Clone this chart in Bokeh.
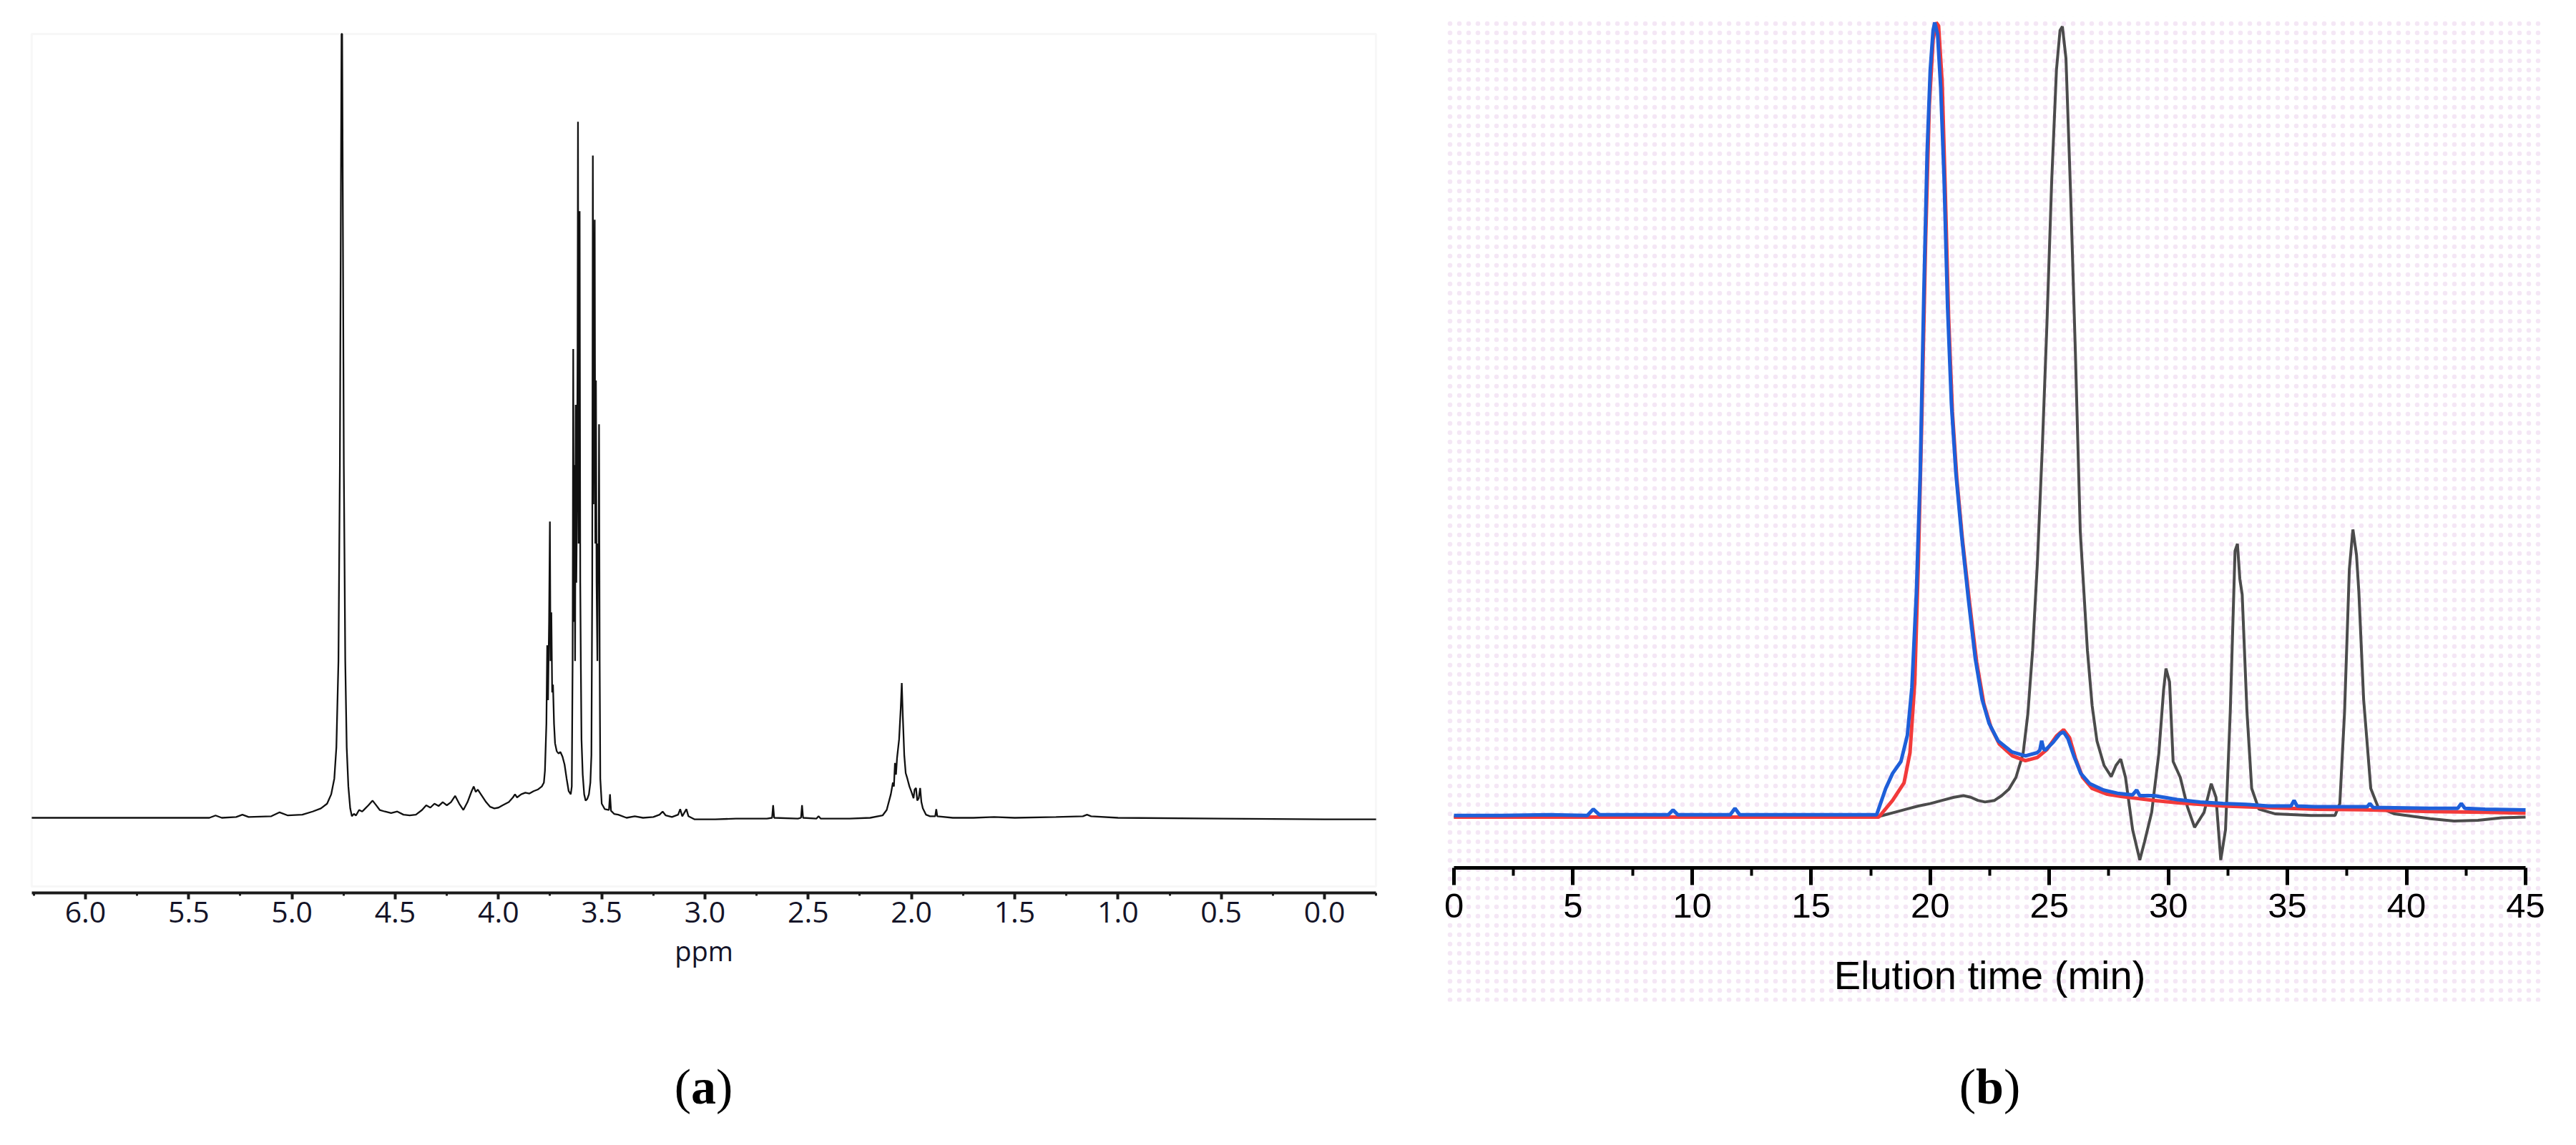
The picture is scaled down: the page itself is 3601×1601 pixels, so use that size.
from bokeh.plotting import figure
from bokeh.layouts import row
from bokeh.models import Range1d, FixedTicker, NumeralTickFormatter, BoxAnnotation, Label
from bokeh.embed import file_html
from bokeh.resources import INLINE

# ---------------- data: panel (a) 1H NMR spectrum ----------------
nmr_points = [
    (6.26, 0.0), (5.40, 0.0), (5.37, 0.003), (5.34, 0.0), (5.27, 0.001), (5.24, 0.004), (5.21, 0.001),
    (5.10, 0.002), (5.06, 0.007), (5.02, 0.003), (4.95, 0.004), (4.90, 0.008), (4.86, 0.012),
    (4.83, 0.018), (4.81, 0.03), (4.795, 0.05), (4.785, 0.09), (4.775, 0.2), (4.768, 0.45),
    (4.763, 0.8), (4.760, 1.0), (4.757, 1.0), (4.754, 0.8), (4.749, 0.45), (4.742, 0.2),
    (4.735, 0.09), (4.727, 0.04), (4.718, 0.012), (4.71, 0.002), (4.70, 0.005), (4.69, 0.003),
    (4.675, 0.01), (4.66, 0.008), (4.645, 0.012), (4.63, 0.016), (4.61, 0.022), (4.595, 0.017),
    (4.575, 0.01), (4.55, 0.008), (4.52, 0.006), (4.49, 0.008), (4.46, 0.004), (4.43, 0.003),
    (4.40, 0.004), (4.37, 0.01), (4.35, 0.016), (4.33, 0.013), (4.31, 0.018), (4.29, 0.015),
    (4.27, 0.02), (4.25, 0.016), (4.23, 0.02), (4.21, 0.028), (4.19, 0.018), (4.17, 0.01),
    (4.15, 0.02), (4.13, 0.034), (4.12, 0.04), (4.11, 0.033), (4.10, 0.036), (4.08, 0.028),
    (4.06, 0.02), (4.04, 0.014), (4.02, 0.012), (4.00, 0.013), (3.98, 0.016), (3.95, 0.02),
    (3.93, 0.026), (3.92, 0.03), (3.91, 0.026), (3.89, 0.03), (3.87, 0.032), (3.85, 0.031),
    (3.83, 0.034), (3.81, 0.036), (3.79, 0.04), (3.78, 0.045), (3.775, 0.06), (3.768, 0.12),
    (3.764, 0.22), (3.760, 0.15), (3.755, 0.25), (3.751, 0.378), (3.748, 0.2), (3.744, 0.262),
    (3.740, 0.16), (3.736, 0.17), (3.731, 0.12), (3.726, 0.095), (3.718, 0.085), (3.709, 0.082),
    (3.70, 0.084), (3.69, 0.078), (3.68, 0.068), (3.67, 0.05), (3.66, 0.034), (3.65, 0.03),
    (3.645, 0.04), (3.641, 0.2), (3.638, 0.598), (3.635, 0.25), (3.632, 0.45), (3.629, 0.2),
    (3.626, 0.527), (3.623, 0.3), (3.620, 0.4), (3.617, 0.6), (3.615, 0.888), (3.612, 0.35),
    (3.609, 0.5), (3.607, 0.774), (3.604, 0.3), (3.601, 0.19), (3.598, 0.1), (3.592, 0.055),
    (3.585, 0.03), (3.578, 0.022), (3.57, 0.024), (3.562, 0.03), (3.555, 0.045), (3.550, 0.08),
    (3.546, 0.3), (3.543, 0.845), (3.540, 0.4), (3.537, 0.6), (3.534, 0.763), (3.531, 0.35),
    (3.528, 0.558), (3.525, 0.3), (3.521, 0.2), (3.518, 0.35), (3.515, 0.3), (3.513, 0.502),
    (3.510, 0.2), (3.507, 0.05), (3.50, 0.018), (3.485, 0.011), (3.465, 0.01), (3.460, 0.03),
    (3.455, 0.009), (3.44, 0.005), (3.42, 0.004), (3.38, 0.0), (3.34, 0.002), (3.30, 0.0),
    (3.25, 0.001), (3.22, 0.004), (3.205, 0.008), (3.19, 0.003), (3.16, 0.001), (3.13, 0.004),
    (3.12, 0.011), (3.11, 0.002), (3.09, 0.011), (3.08, 0.002), (3.05, -0.002), (2.95, -0.002),
    (2.85, -0.001), (2.70, -0.001), (2.675, 0.0), (2.67, 0.016), (2.665, 0.0), (2.55, -0.001),
    (2.535, 0.0), (2.53, 0.016), (2.525, 0.0), (2.46, -0.001), (2.45, 0.002), (2.44, -0.001),
    (2.30, -0.001), (2.20, 0.0), (2.14, 0.003), (2.12, 0.01), (2.10, 0.03), (2.09, 0.045),
    (2.085, 0.04), (2.08, 0.07), (2.075, 0.055), (2.07, 0.076), (2.06, 0.1), (2.052, 0.14),
    (2.047, 0.172), (2.042, 0.13), (2.035, 0.08), (2.028, 0.057), (2.02, 0.05), (2.01, 0.04),
    (2.0, 0.033), (1.99, 0.025), (1.985, 0.036), (1.978, 0.038), (1.972, 0.022), (1.965, 0.025),
    (1.958, 0.038), (1.952, 0.02), (1.945, 0.012), (1.93, 0.004), (1.91, 0.002), (1.885, 0.002),
    (1.88, 0.011), (1.875, 0.002), (1.80, 0.0), (1.70, 0.0), (1.60, 0.001), (1.50, 0.0),
    (1.30, 0.001), (1.17, 0.002), (1.15, 0.004), (1.13, 0.002), (1.0, 0.0), (0.5, -0.001),
    (0.0, -0.002), (-0.25, -0.002),
]
nmr_ticks = [6.0, 5.5, 5.0, 4.5, 4.0, 3.5, 3.0, 2.5, 2.0, 1.5, 1.0, 0.5, 0.0]
nmr_minor = [6.25, 5.75, 5.25, 4.75, 4.25, 3.75, 3.25, 2.75, 2.25, 1.75, 1.25, 0.75, 0.25, -0.25]
nmr_span = (6.26, -0.249)          # displayed ppm window

# ---------------- data: panel (b) chromatograms ----------------
gray_points = [
    (0, 0.0), (17.7, 0.0), (18.0, 0.002), (18.5, 0.006), (19.0, 0.01), (19.5, 0.014), (20.0, 0.017),
    (20.5, 0.021), (21.0, 0.025), (21.4, 0.027), (21.7, 0.025), (22.0, 0.021), (22.3, 0.019),
    (22.7, 0.021), (23.0, 0.027), (23.3, 0.035), (23.6, 0.05), (23.9, 0.08), (24.1, 0.13),
    (24.3, 0.21), (24.5, 0.32), (24.7, 0.46), (24.9, 0.62), (25.1, 0.8), (25.3, 0.94),
    (25.45, 0.99), (25.55, 0.995), (25.7, 0.955), (25.9, 0.78), (26.1, 0.58), (26.3, 0.36),
    (26.6, 0.21), (26.8, 0.14), (27.0, 0.096), (27.3, 0.065), (27.6, 0.051), (27.8, 0.065),
    (28.0, 0.073), (28.2, 0.05), (28.5, -0.016), (28.8, -0.054), (29.0, -0.031), (29.3, 0.006),
    (29.6, 0.08), (29.8, 0.16), (29.9, 0.187), (30.05, 0.17), (30.2, 0.07), (30.5, 0.05),
    (30.8, 0.013), (31.1, -0.013), (31.5, 0.006), (31.8, 0.042), (32.0, 0.025), (32.2, -0.054),
    (32.4, -0.016), (32.6, 0.133), (32.8, 0.335), (32.9, 0.344), (33.0, 0.3), (33.1, 0.28),
    (33.3, 0.133), (33.5, 0.036), (33.8, 0.01), (34.5, 0.004), (36.0, 0.002), (37.0, 0.002),
    (37.2, 0.017), (37.4, 0.133), (37.6, 0.312), (37.75, 0.362), (37.9, 0.33), (38.0, 0.283),
    (38.2, 0.148), (38.5, 0.036), (38.8, 0.013), (39.5, 0.004), (40.0, 0.002), (41.0, -0.002),
    (42.0, -0.005), (43.0, -0.004), (44.0, -0.001), (45.0, 0.0),
]
red_points = [
    (0, 0.0), (17.84, 0.0), (18.42, 0.021), (18.9, 0.043), (19.15, 0.081), (19.35, 0.17),
    (19.5, 0.32), (19.65, 0.507), (19.81, 0.731), (19.96, 0.895), (20.12, 0.978), (20.25, 1.0),
    (20.35, 0.996), (20.5, 0.925), (20.62, 0.8), (20.77, 0.63), (20.93, 0.51), (21.12, 0.425),
    (21.35, 0.35), (21.65, 0.27), (21.95, 0.195), (22.25, 0.143), (22.55, 0.113), (22.9, 0.092),
    (23.45, 0.077), (24.0, 0.071), (24.5, 0.075), (24.9, 0.085), (25.3, 0.102), (25.6, 0.11),
    (25.85, 0.1), (26.1, 0.074), (26.4, 0.05), (26.8, 0.036), (27.4, 0.029), (28.0, 0.026),
    (29.4, 0.021), (30.4, 0.018), (32.3, 0.014), (34.2, 0.012), (36.2, 0.01), (38.5, 0.009),
    (41.0, 0.007), (43.3, 0.006), (45.0, 0.005),
]
blue_points = [
    (0, 0.002), (2, 0.002), (4, 0.003), (5.6, 0.002), (5.85, 0.01), (6.1, 0.003), (7.5, 0.003),
    (9.0, 0.003), (9.2, 0.009), (9.4, 0.003), (10.5, 0.003), (11.6, 0.003), (11.8, 0.011),
    (12.0, 0.003), (13.5, 0.003), (15, 0.003), (16.5, 0.003), (17.75, 0.003), (18.13, 0.036),
    (18.42, 0.055), (18.77, 0.07), (19.04, 0.103), (19.23, 0.163), (19.42, 0.283), (19.58, 0.432),
    (19.73, 0.656), (19.87, 0.836), (20.0, 0.94), (20.12, 0.99), (20.19, 1.0), (20.31, 0.985),
    (20.44, 0.918), (20.58, 0.806), (20.73, 0.641), (20.89, 0.52), (21.08, 0.432), (21.31, 0.357),
    (21.6, 0.275), (21.89, 0.2), (22.18, 0.148), (22.47, 0.118), (22.85, 0.096), (23.43, 0.082),
    (24.0, 0.077), (24.49, 0.081), (24.6, 0.084), (24.68, 0.096), (24.76, 0.086), (24.82, 0.084),
    (25.16, 0.094), (25.45, 0.105), (25.6, 0.107), (25.78, 0.099), (26.03, 0.077), (26.32, 0.055),
    (26.7, 0.042), (27.28, 0.034), (27.86, 0.03), (28.5, 0.028), (28.67, 0.034), (28.8, 0.027),
    (29.4, 0.027), (30.37, 0.022), (31.33, 0.019), (32.29, 0.017), (33.26, 0.016), (34.2, 0.014),
    (35.15, 0.014), (35.28, 0.021), (35.4, 0.014), (36.15, 0.013), (37.1, 0.013), (38.35, 0.013),
    (38.46, 0.017), (38.6, 0.012), (39.03, 0.012), (40.96, 0.011), (42.15, 0.011), (42.3, 0.017),
    (42.45, 0.011), (43.3, 0.010), (45.0, 0.009),
]
gpc_ticks = [0, 5, 10, 15, 20, 25, 30, 35, 40, 45]
gpc_minor = [2.5, 7.5, 12.5, 17.5, 22.5, 27.5, 32.5, 37.5, 42.5]
gpc_span = (0, 45)

nmr_x = [p[0] for p in nmr_points]
nmr_y = [p[1] for p in nmr_points]
gray_x = [p[0] for p in gray_points]
gray_y = [p[1] for p in gray_points]
red_x = [p[0] for p in red_points]
red_y = [p[1] for p in red_points]
blue_x = [p[0] for p in blue_points]
blue_y = [p[1] for p in blue_points]

H = 1600

def bare(fig):
    fig.outline_line_color = None
    fig.grid.visible = False
    fig.background_fill_color = "white"
    fig.border_fill_color = "white"

def caption(fig, x, y, letter, half):
    for txt, off, align, style in [("(", -half, "right", "normal"), (letter, 0, "center", "bold"),
                                   (")", half, "left", "normal")]:
        fig.add_layout(Label(x=x, y=y, text=txt, x_offset=off, text_align=align,
                             text_baseline="alphabetic", text_font="Liberation Serif",
                             text_font_size="70px", text_font_style=style, text_color="black"))

# ---------------- panel (a) ----------------
pa = figure(width=1968, height=H, output_backend="svg", toolbar_location=None,
            x_range=Range1d(6.4122, -0.4053), y_range=Range1d(-0.41697, 1.04288),
            y_axis_location=None, min_border=0)
bare(pa)
pa.add_layout(BoxAnnotation(left=nmr_span[0], right=nmr_span[1], top=1.0, bottom=-0.0876,
                            fill_color=None, fill_alpha=0, line_color="#e3e3e3", line_width=3,
                            level="underlay"))
pa.line(nmr_x, nmr_y, line_color="#111111", line_width=2.3)

ax = pa.xaxis[0]
ax.fixed_location = -0.0958
ax.bounds = nmr_span
ax.ticker = FixedTicker(ticks=nmr_ticks, minor_ticks=nmr_minor)
ax.formatter = NumeralTickFormatter(format="0.0")
ax.axis_line_color = "#1a1a1a"
ax.axis_line_width = 4
ax.major_tick_line_color = "#1a1a1a"
ax.major_tick_line_width = 4
ax.major_tick_out = 9
ax.major_tick_in = 0
ax.minor_tick_line_color = "#1a1a1a"
ax.minor_tick_line_width = 3
ax.minor_tick_out = 4
ax.minor_tick_in = 0
ax.major_label_text_font = "Open Sans"
ax.major_label_text_font_size = "41px"
ax.major_label_text_color = "#141428"
ax.major_label_standoff = 4
ax.axis_label = "ppm"
ax.axis_label_text_font = "Open Sans"
ax.axis_label_text_font_size = "38px"
ax.axis_label_text_font_style = "normal"
ax.axis_label_text_color = "#141428"
ax.axis_label_standoff = 9

caption(pa, 3.007, -0.3431, "a", 17.5)

# ---------------- panel (b) ----------------
pb = figure(width=1632, height=H, output_backend="svg", toolbar_location=None,
            x_range=Range1d(-1.9226, 47.103), y_range=Range1d(-0.41224, 1.02790),
            y_axis_location=None, min_border=0)
bare(pb)
pb.add_layout(BoxAnnotation(left=-0.36, right=45.69, top=1.0072, bottom=-0.2322,
                            fill_color=None, fill_alpha=0, line_color=None,
                            hatch_pattern="dot", hatch_color="#e4c3e7", hatch_scale=13,
                            hatch_weight=2, hatch_alpha=0.4, level="underlay"))

pb.line(gray_x, gray_y, line_color="#4b4b4b", line_width=4)
pb.line(red_x, red_y, line_color="#f23a3a", line_width=5)
pb.line(blue_x, blue_y, line_color="#1e5fd9", line_width=5)

bx = pb.xaxis[0]
bx.fixed_location = -0.0639
bx.bounds = gpc_span
bx.ticker = FixedTicker(ticks=gpc_ticks, minor_ticks=gpc_minor)
bx.axis_line_color = "black"
bx.axis_line_width = 5
bx.major_tick_line_color = "black"
bx.major_tick_line_width = 5
bx.major_tick_out = 24
bx.major_tick_in = 0
bx.minor_tick_line_color = "black"
bx.minor_tick_line_width = 4
bx.minor_tick_out = 11
bx.minor_tick_in = 0
bx.major_label_text_font = "Liberation Sans"
bx.major_label_text_font_size = "49px"
bx.major_label_text_color = "black"
bx.major_label_standoff = 13
bx.axis_label = "Elution time (min)"
bx.axis_label_text_font = "Liberation Sans"
bx.axis_label_text_font_size = "56px"
bx.axis_label_text_font_style = "normal"
bx.axis_label_text_color = "black"
bx.axis_label_standoff = 45

caption(pb, 22.5, -0.3393, "b", 19.5)

layout = row(pa, pb, spacing=0)
open("out.html", "w").write(file_html(layout, INLINE))
